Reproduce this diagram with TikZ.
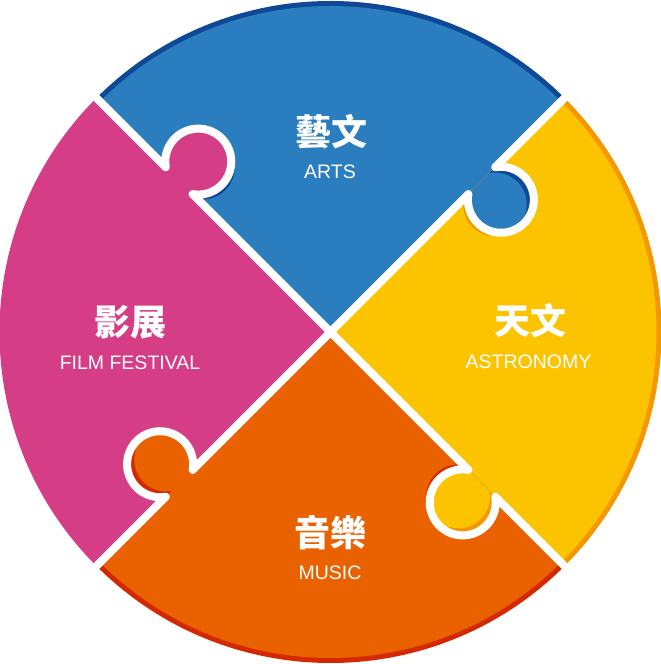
\documentclass[tikz,border=0pt]{standalone}
\usepackage{fontspec}
\setmainfont{Liberation Sans}
\newfontfamily\cjk{Noto Sans CJK TC}
\definecolor{blueL}{RGB}{42,125,190}
\definecolor{blueD}{RGB}{14,72,150}
\definecolor{yellowL}{RGB}{252,195,0}
\definecolor{yellowD}{RGB}{243,152,0}
\definecolor{orangeL}{RGB}{234,97,0}
\definecolor{orangeD}{RGB}{212,40,0}
\definecolor{pinkL}{RGB}{213,62,135}
\definecolor{pinkD}{RGB}{213,62,135}
\def\R{331}
\def\Rl{326}
\def\knobregion{(195,0) arc[start angle=125.13, end angle=414.87, radius=33] -- cycle}
\def\boundary{(0,0) -- (195,0) arc[start angle=125.13, end angle=414.87, radius=33] -- (350,0)}
\tikzset{
  cjklabel/.style={text=white, inner sep=0pt, font=\cjk\bfseries\fontsize{36}{36}\selectfont},
  enlabel/.style={text=white, inner sep=0pt, font=\fontsize{19.5}{19.5}\selectfont},
  gap/.style={draw=white, line width=8, line join=round}
}
\begin{document}
\begin{tikzpicture}[x=1pt,y=1pt]
\useasboundingbox (0,0) rectangle (661,664);
\coordinate (C) at (330.5,332);
% wedges: dark rim + light face
\foreach \a/\c in {45/blue,135/pink,225/orange,-45/yellow}{
  \fill[\c D] (C) -- ++(\a:\R) arc[start angle=\a, end angle=\a+90, radius=\R] -- cycle;
  \fill[\c L] (C) -- ++(\a:\Rl) arc[start angle=\a, end angle=\a+90, radius=\Rl] -- cycle;
}
% knobs: boundary angle / owner / neighbour
\foreach \a/\o/\n in {45/blue/yellow,135/pink/blue,225/orange/pink,315/yellow/orange}{
  \begin{scope}[shift={(C)}, rotate=\a]
    \fill[\n D, scale=0.965] \knobregion;
    \fill[\o D] \knobregion;
    \begin{scope}
      \clip \knobregion;
      \fill[\o L, scale=0.965] \knobregion;
    \end{scope}
  \end{scope}
}
% white gaps
\foreach \a in {45,135,225,315}{
  \begin{scope}[shift={(C)}, rotate=\a]
    \draw[gap] \boundary;
  \end{scope}
}
% labels
\node[cjklabel] (artszh) at (331,532) {藝文};
\node[enlabel] (artsen) at (330,492) {ARTS};
\node[cjklabel] (astrozh) at (530,343) {天文};
\node[enlabel] (astroen) at (528.5,302) {ASTRONOMY};
\node[cjklabel] (filmzh) at (130,342) {影展};
\node[enlabel] (filmen) at (130,301) {FILM FESTIVAL};
\node[cjklabel] (musiczh) at (330,131) {音樂};
\node[enlabel] (musicen) at (330,91) {MUSIC};
\end{tikzpicture}
\end{document}
